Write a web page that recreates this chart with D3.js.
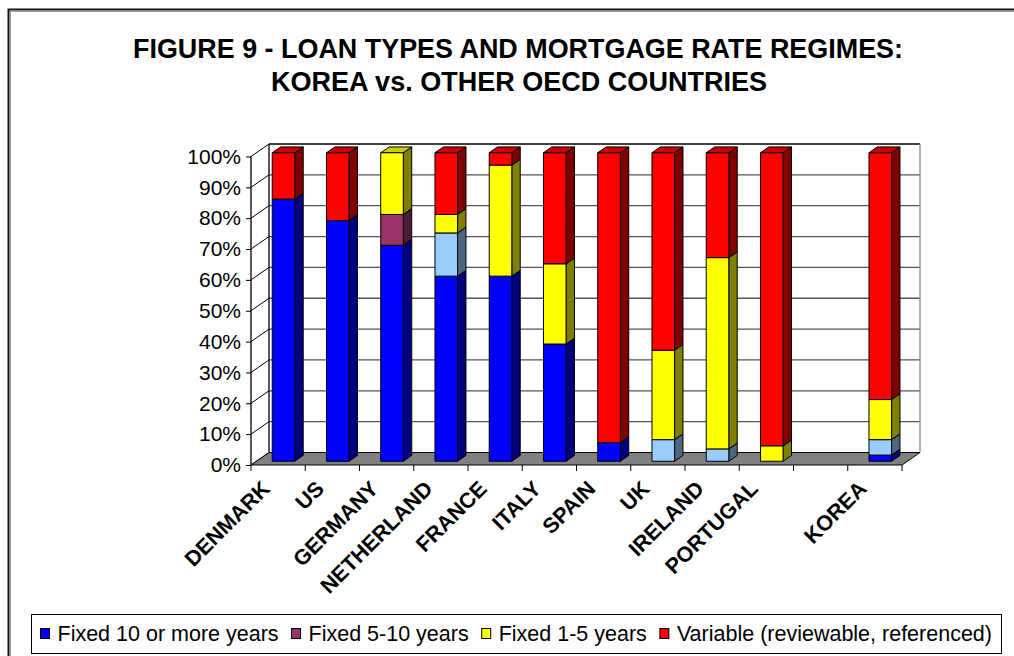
<!DOCTYPE html>
<html>
<head>
<meta charset="utf-8">
<script src="https://cdn.jsdelivr.net/npm/d3@7"></script>
<style>
  html, body { margin: 0; padding: 0; background: #fff; }
  svg { display: block; font-family: "Liberation Sans", Arial, sans-serif; }
</style>
</head>
<body>
<svg id="chart" width="1014" height="656"></svg>
<script>
// Categories (one empty slot separates Korea from the other countries)
const countries = ["DENMARK", "US", "GERMANY", "NETHERLAND", "FRANCE", "ITALY",
                   "SPAIN", "UK", "IRELAND", "PORTUGAL", "", "KOREA"];

// Share of loans by rate regime, % of total
const fixed10    = [85, 78, 70, 60, 60, 38,  6,  0,  0,  0, 0,  2];
const fixedOther = [ 0,  0,  0, 14,  0,  0,  0,  7,  4,  0, 0,  5];
const fixed5to10 = [ 0,  0, 10,  0,  0,  0,  0,  0,  0,  0, 0,  0];
const fixed1to5  = [ 0,  0, 20,  6, 36, 26,  0, 29, 62,  5, 0, 13];
const variable   = [15, 22,  0, 20,  4, 36, 94, 64, 34, 95, 0, 80];

const yTicks = [0, 10, 20, 30, 40, 50, 60, 70, 80, 90, 100];

const seriesDefs = [
  { key: "fixed10",    label: "Fixed 10 or more years",           values: fixed10,    color: "#0000ff", legend: true },
  { key: "fixedOther", label: "Fixed (other)",                    values: fixedOther, color: "#99ccff", legend: false },
  { key: "fixed5to10", label: "Fixed 5-10 years",                 values: fixed5to10, color: "#993366", legend: true },
  { key: "fixed1to5",  label: "Fixed 1-5 years",                  values: fixed1to5,  color: "#ffff00", legend: true },
  { key: "variable",   label: "Variable (reviewable, referenced)", values: variable,  color: "#ff0000", legend: true }
];

const rows = countries.map((c, i) => {
  const r = { country: c, idx: i };
  seriesDefs.forEach(s => { r[s.key] = s.values[i]; });
  return r;
});

const svg = d3.select("#chart");

// Outer frame
svg.append("rect").attr("x", 8.5).attr("y", 9.5).attr("width", 1100).attr("height", 700)
  .attr("fill", "#fff").attr("stroke", "#111").attr("stroke-width", 2);
svg.append("rect").attr("x", 10.5).attr("y", 11.5).attr("width", 1100).attr("height", 700)
  .attr("fill", "none").attr("stroke", "#9a9a9a").attr("stroke-width", 1);

// Title
const title = svg.append("g").attr("font-weight", "bold").attr("font-size", 27)
  .attr("text-anchor", "middle").attr("fill", "#000");
title.append("text").attr("x", 518).attr("y", 58)
  .attr("textLength", 770).attr("lengthAdjust", "spacingAndGlyphs")
  .text("FIGURE 9 - LOAN TYPES AND MORTGAGE RATE REGIMES:");
title.append("text").attr("x", 519).attr("y", 91)
  .attr("textLength", 496).attr("lengthAdjust", "spacingAndGlyphs")
  .text("KOREA vs. OTHER OECD COUNTRIES");

// 3D frame geometry
const x = d3.scaleBand().domain(d3.range(countries.length)).range([251, 902]).padding(0);
const y = d3.scaleLinear().domain([0, 100]).range([465, 156.5]);
const DX = 18, DY = -12.5;           // projection of full depth
const proj = (px, py, z) => [px + z * DX, py + z * DY];

const frame = svg.append("g");
const xl = x.range()[0], xr = x.range()[1];

// Back wall
frame.append("polygon")
  .attr("points", [proj(xl, y(0), 1), proj(xr, y(0), 1), proj(xr, y(100), 1), proj(xl, y(100), 1)].join(" "))
  .attr("fill", "#fff").attr("stroke", "none");

// Gridlines: side wall diagonals and back wall horizontals
yTicks.forEach(t => {
  const a = proj(xl, y(t), 0), b = proj(xl, y(t), 1), c = proj(xr, y(t), 1);
  frame.append("line").attr("x1", a[0]).attr("y1", a[1]).attr("x2", b[0]).attr("y2", b[1])
    .attr("stroke", "#000").attr("stroke-width", 1);
  if (t > 0 && t < 100) {
    frame.append("line").attr("x1", b[0]).attr("y1", b[1]).attr("x2", c[0]).attr("y2", c[1])
      .attr("stroke", "#555").attr("stroke-width", 1.3);
  }
});
// Back wall top and edges
{
  const tl = proj(xl, y(100), 1), tr = proj(xr, y(100), 1), bl = proj(xl, y(0), 1), br = proj(xr, y(0), 1);
  frame.append("line").attr("x1", tl[0]).attr("y1", tl[1]).attr("x2", tr[0]).attr("y2", tr[1])
    .attr("stroke", "#000").attr("stroke-width", 1.3);
  frame.append("line").attr("x1", tl[0]).attr("y1", tl[1]).attr("x2", bl[0]).attr("y2", bl[1])
    .attr("stroke", "#000").attr("stroke-width", 1.3);
  frame.append("line").attr("x1", tr[0]).attr("y1", tr[1]).attr("x2", br[0]).attr("y2", br[1])
    .attr("stroke", "#888").attr("stroke-width", 1.3);
}

// Floor
frame.append("polygon")
  .attr("points", [proj(xl, y(0), 0), proj(xr, y(0), 0), proj(xr, y(0), 1), proj(xl, y(0), 1)].join(" "))
  .attr("fill", "#808080").attr("stroke", "#000").attr("stroke-width", 1);

// Front value axis
frame.append("line").attr("x1", xl).attr("y1", y(0)).attr("x2", xl).attr("y2", y(100))
  .attr("stroke", "#000").attr("stroke-width", 1.3);

const yAxis = d3.axisLeft(y).tickValues(yTicks).tickSize(5).tickFormat(d => d + "%");
const yg = svg.append("g").attr("transform", `translate(${xl},0)`).call(yAxis);
yg.select(".domain").remove();
yg.selectAll(".tick line").attr("stroke", "#000");
yg.selectAll(".tick text").attr("font-size", 21).attr("fill", "#000")
  .attr("font-family", "Liberation Sans, Arial, sans-serif").attr("x", -10);

// Category axis along the front edge of the floor
const xTickPos = d3.range(countries.length + 1).map(i => xl + i * x.bandwidth());
svg.append("g").selectAll("line").data(xTickPos).join("line")
  .attr("x1", d => d).attr("x2", d => d).attr("y1", y(0)).attr("y2", y(0) + 6)
  .attr("stroke", "#000");

svg.append("g").attr("font-weight", "bold").attr("font-size", 21.5).attr("fill", "#000")
  .selectAll("text").data(rows).join("text")
  .attr("text-anchor", "end")
  .attr("transform", d => `translate(${x(d.idx) + x.bandwidth() / 2 - 7},${y(0) + 25}) rotate(-45)`)
  .text(d => d.country);

// Stacked 3D columns
const stack = d3.stack().keys(seriesDefs.map(s => s.key));
const stacked = stack(rows);
const colorOf = Object.fromEntries(seriesDefs.map(s => [s.key, s.color]));

const faceW = 22.6;
const z0 = 0.3, z1 = z0 + 8.4 / DX;
const bars = svg.append("g").attr("stroke", "#000").attr("stroke-width", 1).attr("stroke-linejoin", "round");

rows.forEach((r, i) => {
  stacked.forEach(layer => {
    const [lo, hi] = layer[i];
    if (hi - lo <= 0) return;
    const base = d3.color(colorOf[layer.key]);
    const side = d3.rgb(base.r * 0.5, base.g * 0.5, base.b * 0.5);
    const top = d3.rgb(base.r * 0.8, base.g * 0.8, base.b * 0.8);
    const cx = x(i) + x.bandwidth() / 2;
    const x0 = cx - faceW / 2, x1 = cx + faceW / 2;
    const f = (px, v, z) => proj(px, y(v), z);
    // side face
    bars.append("polygon")
      .attr("points", [f(x1, lo, z0), f(x1, lo, z1), f(x1, hi, z1), f(x1, hi, z0)].join(" "))
      .attr("fill", side);
    // top face
    bars.append("polygon")
      .attr("points", [f(x0, hi, z0), f(x1, hi, z0), f(x1, hi, z1), f(x0, hi, z1)].join(" "))
      .attr("fill", top);
    // front face
    bars.append("polygon")
      .attr("points", [f(x0, lo, z0), f(x1, lo, z0), f(x1, hi, z0), f(x0, hi, z0)].join(" "))
      .attr("fill", base);
  });
});

// Legend
const legend = svg.append("g");
legend.append("rect").attr("x", 31.5).attr("y", 614.5).attr("width", 970).attr("height", 39)
  .attr("fill", "#fff").attr("stroke", "#000").attr("stroke-width", 1);
let lx = 40;
seriesDefs.filter(s => s.legend).forEach(s => {
  legend.append("rect").attr("x", lx + 0.5).attr("y", 628.5).attr("width", 9).attr("height", 10)
    .attr("fill", s.color).attr("stroke", "#000").attr("stroke-width", 1);
  const t = legend.append("text").attr("x", lx + 17.5).attr("y", 641)
    .attr("font-size", 21.5).attr("fill", "#000").text(s.label);
  lx = lx + 17.5 + t.node().getComputedTextLength() + 12.5;
});
</script>
</body>
</html>
